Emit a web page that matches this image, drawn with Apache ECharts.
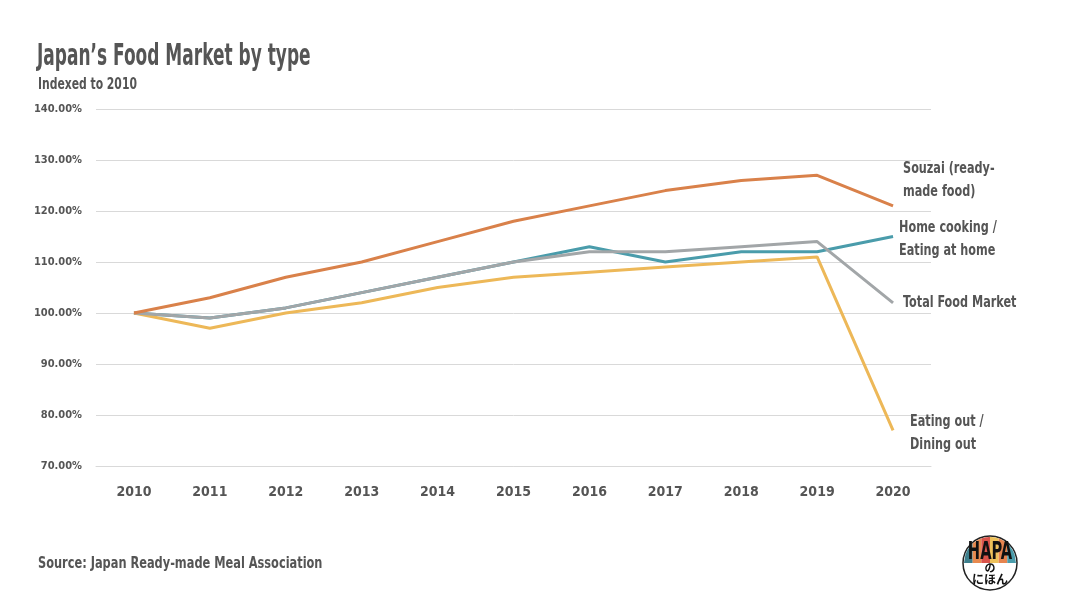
<!DOCTYPE html>
<html><head><meta charset="utf-8">
<script src="https://cdn.jsdelivr.net/npm/echarts@6/dist/echarts.min.js"></script>
<style>html,body{margin:0;padding:0;background:#fff}#c{width:1080px;height:608px}</style>
</head><body><div id="c"></div>
<script>
const years = ['2010','2011','2012','2013','2014','2015','2016','2017','2018','2019','2020'];
const souzai = [100,103,107,110,114,118,121,124,126,127,121];
const homeCooking = [100,99,101,104,107,110,113,110,112,112,115];
const totalMarket = [100,99,101,104,107,110,112,112,113,114,102];
const eatingOut = [100,97,100,102,105,107,108,109,110,111,77];
const yTicks = [70,80,90,100,110,120,130,140];
const seriesNames = ['Home cooking','Eating out','Total Food Market','Souzai'];
const endLabels = ['Home cooking /\nEating at home','Eating out /\nDining out','Total Food Market','Souzai (ready-\nmade food)'];

const F = '"DejaVu Sans Condensed","Liberation Sans Narrow",sans-serif';
const TXT = '#555';
const chart = echarts.init(document.getElementById('c'));
function mk(name, data, color){
  return {name, type:'line', data, symbol:'none', lineStyle:{color, width:3}, itemStyle:{color}};
}
function sText(x, y, text, size, sx, extra){
  return Object.assign({type:'text', x, y, scaleX:sx, originX:0,
    style:{text, fontFamily:F, fontWeight:'bold', fontSize:size, fill:TXT, lineHeight:Math.round(size*1.45), verticalAlign:'middle'}}, extra||{});
}
chart.setOption({
  animation:false,
  grid:{left:96, right:149, top:109, bottom:142},
  xAxis:{type:'category', data:years, boundaryGap:true,
    axisLine:{lineStyle:{color:'#d9d9d9'}}, axisTick:{show:false},
    axisLabel:{fontFamily:F, fontWeight:'bold', fontSize:14, color:TXT, margin:19}},
  yAxis:{type:'value', min:70, max:140, interval:10,
    axisLine:{show:false}, axisTick:{show:false},
    splitLine:{lineStyle:{color:'#d9d9d9'}},
    axisLabel:{fontFamily:F, fontWeight:'bold', fontSize:11, color:TXT, margin:14,
      formatter:v=> yTicks.includes(v) ? v.toFixed(2)+'%' : ''}},
  series:[
    mk(seriesNames[0], homeCooking, '#4a9cab'),
    mk(seriesNames[1], eatingOut, '#edb858'),
    mk(seriesNames[2], totalMarket, '#a2a6a8'),
    mk(seriesNames[3], souzai, '#d9814a')
  ]
});
const lastIdx = years.length - 1;
const lastVals = [homeCooking[lastIdx], eatingOut[lastIdx], totalMarket[lastIdx], souzai[lastIdx]];
const offs = [[6,3],[17,3],[10,0],[10,-26]];
const g = [
  sText(37, 57, "Japan\u2019s Food Market by type", 30, 0.63),
  sText(38, 85, 'Indexed to 2010', 16, 0.75),
  sText(38, 564, 'Source: Japan Ready-made Meal Association', 16, 0.79)
];
lastVals.forEach((v,i)=>{
  const p = chart.convertToPixel({seriesIndex:i}, [lastIdx, v]);
  g.push(sText(p[0]+offs[i][0], p[1]+offs[i][1], endLabels[i], 16, 0.78));
});
// logo: striped upper half of a circle
const R = 26, C = 27;
const stripeColors = ['#3d7f8c','#e88a4f','#d9534a','#edc15a','#e6844f','#4a9cab'];
const logoKids = [{type:'circle', shape:{cx:C, cy:C, r:R+1}, style:{fill:'#fff', stroke:'#222', lineWidth:1.5}}];
const bw = 2*R/stripeColors.length;
stripeColors.forEach((col,k)=>{
  const x0 = C-R+k*bw, x1 = x0+bw, pts = [[x0,C]];
  for(let s=0;s<=6;s++){const x=x0+(x1-x0)*s/6; pts.push([x, C-Math.sqrt(Math.max(0,R*R-(x-C)*(x-C)))]);}
  pts.push([x1,C]);
  logoKids.push({type:'polygon', shape:{points:pts}, style:{fill:col}});
});
logoKids.push(
  {type:'text', x:C, y:17, scaleX:0.68, style:{text:'HAPA', align:'center', verticalAlign:'middle', fontFamily:F, fontWeight:'bold', fontSize:24, fill:'#111'}},
  {type:'text', x:C, y:32, style:{text:'\u306e', align:'center', verticalAlign:'middle', fontFamily:'"Noto Sans CJK JP"', fontWeight:'bold', fontSize:11, fill:'#111'}},
  {type:'text', x:C, y:43, style:{text:'\u306b\u307b\u3093', align:'center', verticalAlign:'middle', fontFamily:'"Noto Sans CJK JP"', fontWeight:'bold', fontSize:12, fill:'#111'}}
);
g.push({type:'group', x:963, y:536, children:logoKids});
chart.setOption({graphic:g});
</script></body></html>
